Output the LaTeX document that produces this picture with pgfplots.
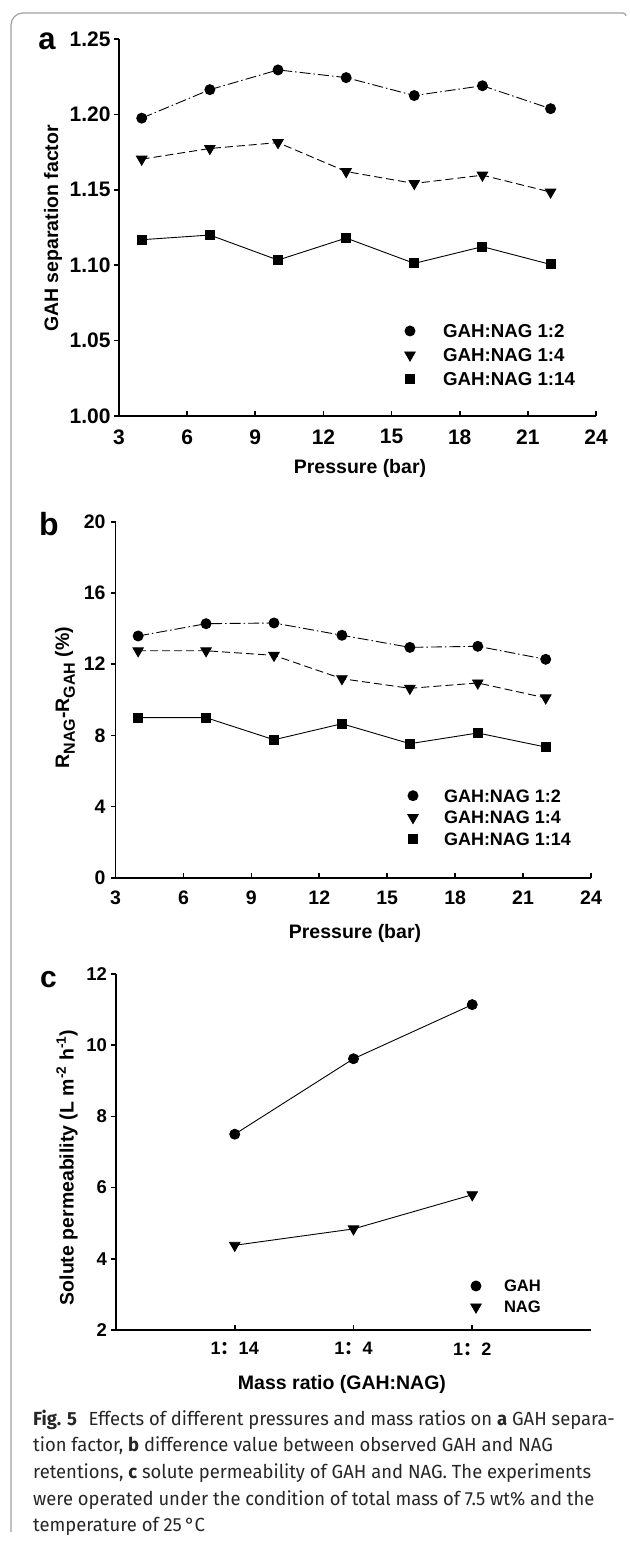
\documentclass[border=0pt]{standalone}
\usepackage{fontspec}
\setmainfont{Liberation Sans}
\newfontfamily\capfont[FakeStretch=0.97]{Fira Sans}
\newfontfamily\cjk{Noto Sans CJK SC}
\usepackage{pgfplots}
\pgfplotsset{compat=1.18}
\newcommand{\fs}[1]{\fontsize{#1}{#1}\selectfont\bfseries}

\pgfplotsset{
  panel/.style={
    scale only axis, anchor=south west,
    axis x line*=bottom, axis y line*=left,
    axis line style={line width=1.8pt, -},
    every outer x axis line/.append style={-},
    every outer y axis line/.append style={-},
    every tick/.style={line width=1.6pt, black},
    major tick length=5pt,
    xtick align=inside, ytick align=outside,
    /pgf/number format/assume math mode=true,
    clip=false,
    legend cell align=left,
  },
  circ/.style={black, line width=0.9pt, mark=*, mark size=5pt, mark options={solid}},
  tri/.style={black, line width=0.9pt, mark=triangle*, mark size=6pt, mark options={solid, rotate=180}},
  sq/.style={black, line width=0.9pt, mark=square*, mark size=4.5pt, mark options={solid}},
  dashdot/.style={dash pattern=on 11pt off 3pt on 1.5pt off 3pt},
  dsh/.style={dash pattern=on 8pt off 4pt},
}

\begin{document}
\begin{tikzpicture}
\useasboundingbox (0,0) rectangle (629pt,-1541pt);
% frame
\draw[gray!75, line width=1.2pt] (11pt,-1532pt) -- (11pt,-25pt) arc[start angle=180, end angle=90, radius=12pt] -- (623pt,-13pt) arc[start angle=90, end angle=0, radius=3pt];

% ---------------- panel a
\begin{axis}[panel, at={(119pt,-416pt)}, width=477pt, height=377pt,
  xmin=3, xmax=24, ymin=1, ymax=1.25,
  xtick={3,6,9,12,15,18,21,24}, ytick={1,1.05,1.1,1.15,1.2,1.25},
  yticklabel style={font=\fs{21}, /pgf/number format/.cd, fixed, fixed zerofill, precision=2},
  xticklabel style={font=\fs{21}, yshift=-10pt},
  legend style={draw=none, fill=none, inner sep=0pt, outer sep=0pt, row sep=11pt,
    at={(axis cs:15.547,1.0607)}, anchor=north west,
    nodes={inner sep=0pt, text height=13pt, text depth=0pt, font=\fs{18.7}}},
  legend image code/.code={\path[draw=none, fill=none] (-6pt,-6.5pt) rectangle (33pt,6.5pt); \draw[#1] plot coordinates {(0pt,0pt)};},
]
\addplot[circ, dashdot] coordinates {(4,1.1975)(7,1.2164)(10,1.2295)(13,1.2244)(16,1.2125)(19,1.219)(22,1.2038)};
\addplot[tri, dsh] coordinates {(4,1.1703)(7,1.1774)(10,1.1813)(13,1.1621)(16,1.1542)(19,1.1597)(22,1.1485)};
\addplot[sq] coordinates {(4,1.1169)(7,1.12)(10,1.1034)(13,1.118)(16,1.1012)(19,1.1123)(22,1.1005)};
\legend{GAH:NAG 1:2, GAH:NAG 1:4, GAH:NAG 1:14}
\end{axis}
\node[font=\fs{31}] at (47pt,-41.5pt) {a};
\node[rotate=90, font=\fs{19.5}] at (53pt,-228.5pt) {GAH separation factor};
\node[font=\fs{19.5}] at (360pt,-468pt) {Pressure (bar)};

% ---------------- panel b
\begin{axis}[panel, at={(115.5pt,-877.7pt)}, width=475.5pt, height=356pt,
  xmin=3, xmax=24, ymin=0, ymax=20,
  xtick={3,6,9,12,15,18,21,24}, ytick={0,4,8,12,16,20},
  yticklabel style={font=\fs{19.5}, xshift=-1.5pt},
  xticklabel style={font=\fs{19.5}, yshift=-10pt},
  legend style={draw=none, fill=none, inner sep=0pt, outer sep=0pt, row sep=9pt,
    at={(axis cs:15.874,4.966)}, anchor=north west,
    nodes={inner sep=0pt, text height=12.8pt, text depth=0pt, font=\fs{18}}},
  legend image code/.code={\path[draw=none, fill=none] (-6pt,-6.4pt) rectangle (31pt,6.4pt); \draw[#1] plot coordinates {(0pt,0pt)};},
]
\addplot[circ, dashdot] coordinates {(4,13.58)(7,14.27)(10,14.31)(13,13.62)(16,12.94)(19,13.0)(22,12.27)};
\addplot[tri, dsh] coordinates {(4,12.75)(7,12.75)(10,12.49)(13,11.18)(16,10.64)(19,10.94)(22,10.1)};
\addplot[sq] coordinates {(4,8.99)(7,8.99)(10,7.75)(13,8.65)(16,7.53)(19,8.13)(22,7.34)};
\legend{GAH:NAG 1:2, GAH:NAG 1:4, GAH:NAG 1:14}
\end{axis}
\node[font=\fs{32}] at (49pt,-524pt) {b};
\node[rotate=90, font=\fs{19.5}] at (65pt,-697.5pt) {R\raisebox{-0.3em}{\fs{16}NAG}-R\raisebox{-0.3em}{\fs{16}GAH} (\%)};
\node[font=\fs{19.5}] at (355pt,-933pt) {Pressure (bar)};

% ---------------- panel c
\begin{axis}[panel, at={(116pt,-1330pt)}, width=475pt, height=356pt,
  xmin=0, xmax=4, ymin=2, ymax=12,
  xtick={1,2,3}, xticklabels={1{\cjk ：}14, 1{\cjk ：}4, 1{\cjk ：}2},
  ytick={2,4,6,8,10,12},
  yticklabel style={font=\fs{18.5}, xshift=-0.5pt},
  xticklabel style={font=\fs{18}, yshift=-9pt},
  legend style={draw=none, fill=none, inner sep=0pt, outer sep=0pt, row sep=9pt,
    at={(axis cs:2.981,3.405)}, anchor=north west,
    nodes={inner sep=0pt, text height=12pt, text depth=0pt, font=\fs{16.6}}},
  legend image code/.code={\path[draw=none, fill=none] (-6pt,-6pt) rectangle (28pt,6pt); \draw[#1] plot coordinates {(0pt,0pt)};},
]
\addplot[circ] coordinates {(1,7.5)(2,9.62)(3,11.14)};
\addplot[tri] coordinates {(1,4.38)(2,4.84)(3,5.8)};
\legend{GAH, NAG}
\end{axis}
\node[font=\fs{30}] at (48.5pt,-980pt) {c};
\node[rotate=90, font=\fs{19.5}] at (67pt,-1167.5pt) {Solute permeability (L m\textsuperscript{-2} h\textsuperscript{-1})};
\node[font=\fs{19.5}] at (342pt,-1384pt) {Mass ratio (GAH:NAG)};

% ---------------- caption
\begin{scope}[every node/.style={anchor=base west, inner sep=0pt, font=\capfont\fontsize{19}{19}\selectfont, text=black!85}]
\node at (33pt,-1425pt) {\textbf{Fig. 5}\hspace{0.6em}Effects of different pressures and mass ratios on \textbf{a} GAH separa-};
\node at (33pt,-1451.7pt) {tion factor, \textbf{b} difference value between observed GAH and NAG};
\node at (33pt,-1478.3pt) {retentions, \textbf{c} solute permeability of GAH and NAG. The experiments};
\node at (33pt,-1505pt) {were operated under the condition of total mass of 7.5 wt\% and the};
\node at (33pt,-1531.7pt) {temperature of 25\,°C};
\end{scope}
\end{tikzpicture}
\end{document}
